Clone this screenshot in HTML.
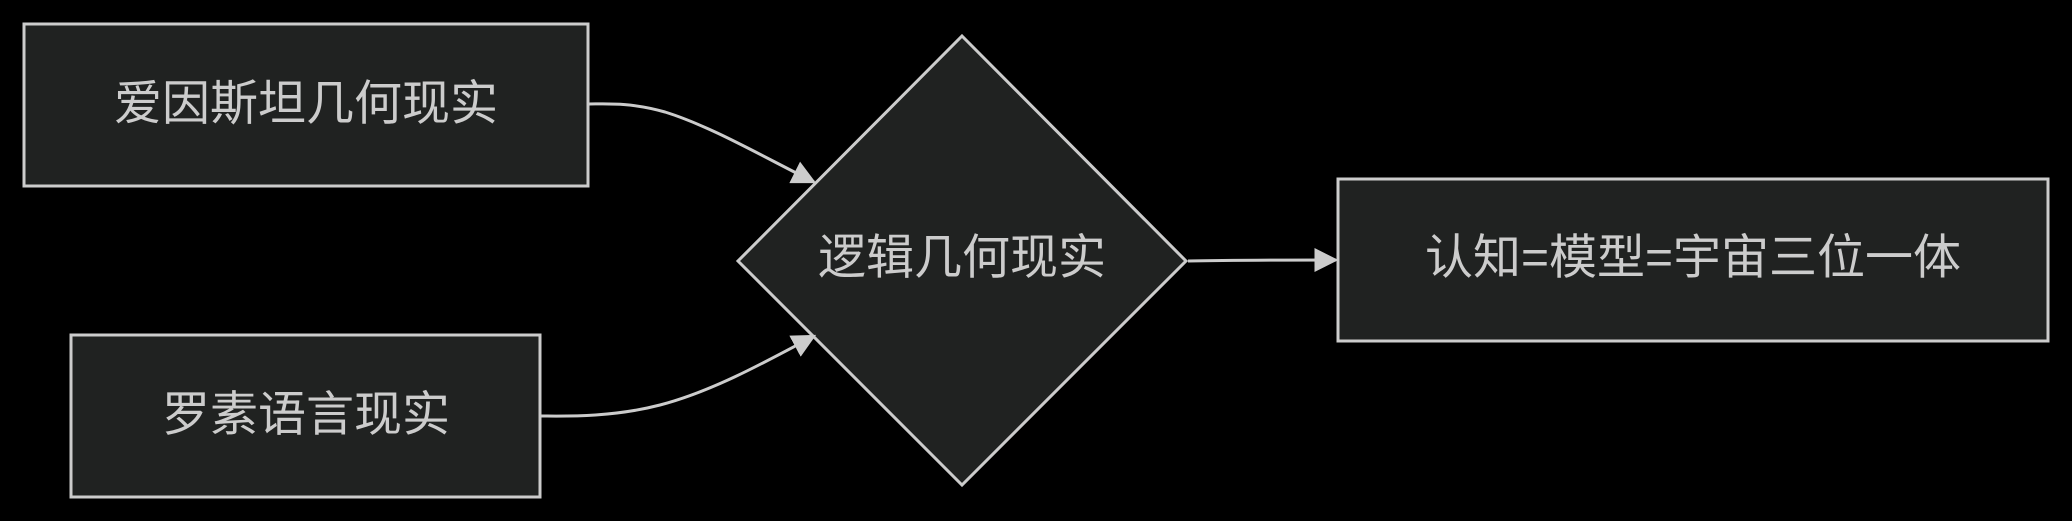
<!DOCTYPE html>
<html><head><meta charset="utf-8"><style>
html,body{margin:0;padding:0;background:#000;width:2072px;height:521px;overflow:hidden}
text{font-family:"Liberation Sans","Noto Sans CJK SC",sans-serif;font-size:48px;fill:#ccc}
</style></head><body>
<svg width="2072" height="521" xmlns="http://www.w3.org/2000/svg">
<defs>
<marker id="b" viewBox="0 0 10 10" refX="9" refY="5" markerWidth="24" markerHeight="24" markerUnits="userSpaceOnUse" orient="auto"><path d="M0,0L10,5L0,10z" fill="#ccc"/></marker></defs>
<g stroke="#ccc" stroke-width="3" fill="#202221">
<rect x="24" y="24" width="564" height="162"/>
<rect x="71" y="335" width="469" height="162"/>
<polygon points="962,36 1186,261 962,485 738,261"/>
<rect x="1338" y="179" width="710" height="162"/>
</g>
<g stroke="#ccc" stroke-width="3" fill="none">
<path d="M588,104 C605,104 630,102 665,112 C710,126 760,155 814,182" marker-end="url(#b)"/>
<path d="M540,416 C560,416 610,418 660,405 C710,392 760,365 814,336" marker-end="url(#b)"/>
<path d="M1188,261 C1230,260 1280,260 1336,260" marker-end="url(#b)"/>
</g>
<g text-anchor="middle" dominant-baseline="central">
<text x="306" y="104">爱因斯坦几何现实</text>
<text x="306" y="415">罗素语言现实</text>
<text x="962" y="258">逻辑几何现实</text>
<text x="1693" y="258">认知=模型=宇宙三位一体</text>
</g>
</svg>
</body></html>
